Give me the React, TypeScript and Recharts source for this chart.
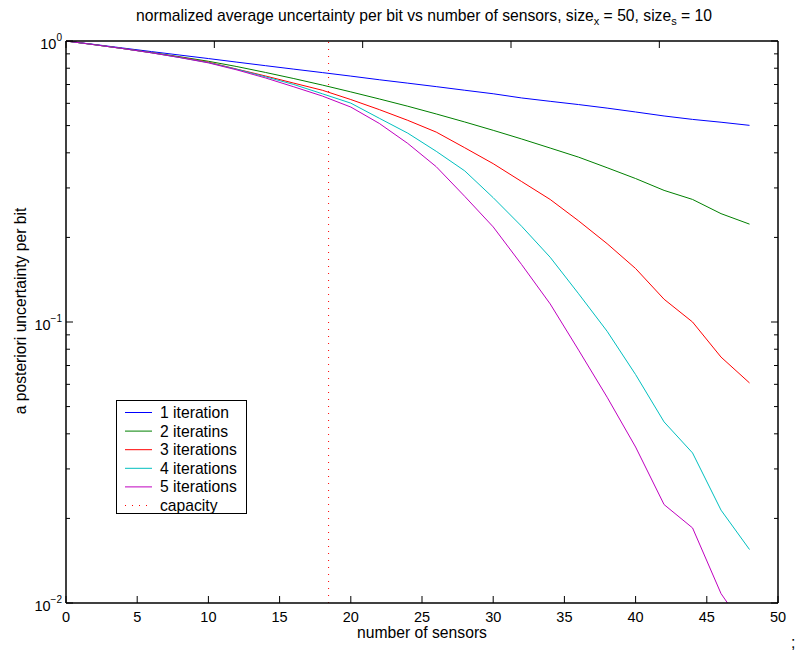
import { LineChart, Line, XAxis, YAxis, ReferenceLine } from 'recharts'

// number of sensors (sampled every 2)
const sensors = [0, 2, 4, 6, 8, 10, 12, 14, 16, 18, 20, 22, 24, 26, 28, 30, 32, 34, 36, 38, 40, 42, 44, 46, 48]

// a posteriori uncertainty per bit
const iter1 = [1, 0.972, 0.944, 0.917, 0.891, 0.866, 0.841, 0.817, 0.794, 0.772, 0.75, 0.728, 0.708, 0.688, 0.668, 0.649, 0.627, 0.61, 0.594, 0.577, 0.559, 0.541, 0.526, 0.514, 0.501]
const iter2 = [1, 0.97, 0.94, 0.91, 0.879, 0.847, 0.811, 0.773, 0.735, 0.697, 0.659, 0.622, 0.586, 0.55, 0.515, 0.481, 0.448, 0.416, 0.386, 0.354, 0.324, 0.294, 0.273, 0.243, 0.223]
const iter3 = [1, 0.97, 0.94, 0.908, 0.875, 0.841, 0.794, 0.751, 0.708, 0.668, 0.619, 0.57, 0.522, 0.474, 0.417, 0.366, 0.316, 0.273, 0.229, 0.19, 0.155, 0.1205, 0.1, 0.075, 0.0607]
const iter4 = [1, 0.97, 0.94, 0.908, 0.873, 0.838, 0.793, 0.746, 0.7, 0.649, 0.601, 0.531, 0.47, 0.405, 0.345, 0.277, 0.219, 0.17, 0.126, 0.0927, 0.065, 0.0441, 0.0342, 0.0214, 0.0155]
const iter5 = [1, 0.97, 0.94, 0.908, 0.873, 0.836, 0.789, 0.739, 0.687, 0.637, 0.582, 0.509, 0.432, 0.357, 0.28, 0.218, 0.16, 0.116, 0.0794, 0.054, 0.0359, 0.0224, 0.0185, 0.0108, 0.0077]

const capacity = 18.44

const xTicks = [0, 5, 10, 15, 20, 25, 30, 35, 40, 45, 50]
const yTicks = [
  0.01, 0.02, 0.03, 0.04, 0.05, 0.06, 0.07, 0.08, 0.09,
  0.1, 0.2, 0.3, 0.4, 0.5, 0.6, 0.7, 0.8, 0.9, 1,
]

const series = [
  { key: 'i1', name: '1 iteration', color: '#0000ff', values: iter1 },
  { key: 'i2', name: '2 iteratins', color: '#008000', values: iter2 },
  { key: 'i3', name: '3 iterations', color: '#ff0000', values: iter3 },
  { key: 'i4', name: '4 iterations', color: '#00bfbf', values: iter4 },
  { key: 'i5', name: '5 iterations', color: '#bf00bf', values: iter5 },
]

const data = sensors.map((x, i) => {
  const row: Record<string, number> = { x }
  series.forEach((s) => {
    row[s.key] = s.values[i]
  })
  return row
})

const FONT = '"Liberation Sans", Arial, Helvetica, sans-serif'
const TEXT = 15.7
const TICK = 14.5

const decade = (v: number) => {
  const e = Math.round(Math.log10(v))
  return { e, major: Math.abs(Math.log10(v) - e) < 1e-6 }
}

const BottomTick = (p: any) => (
  <g>
    <line x1={p.x} x2={p.x} y1={p.y} y2={p.y - 7} stroke="#000" strokeWidth={1} />
    <text x={p.x} y={p.y + 19} textAnchor="middle" fontSize={TICK} fontFamily={FONT} fill="#000">
      {p.payload.value}
    </text>
  </g>
)

const TopTick = (p: any) => (
  <line x1={p.x} x2={p.x} y1={p.y} y2={p.y + 7} stroke="#000" strokeWidth={1} />
)

const LeftTick = (p: any) => {
  const { e, major } = decade(p.payload.value)
  return (
    <g>
      <line x1={p.x} x2={p.x + (major ? 7 : 4)} y1={p.y} y2={p.y} stroke="#000" strokeWidth={1} />
      {major && (
        <text x={p.x - 4} y={p.y + 8} textAnchor="end" fontSize={TICK} fontFamily={FONT} fill="#000">
          10
          <tspan dy={-8} fontSize={10}>
            {e === 0 ? '0' : '\u2212' + -e}
          </tspan>
        </text>
      )}
    </g>
  )
}

const RightTick = (p: any) => {
  const { major } = decade(p.payload.value)
  return <line x1={p.x} x2={p.x - (major ? 7 : 4)} y1={p.y} y2={p.y} stroke="#000" strokeWidth={1} />
}

const axisLine = { stroke: '#000', strokeWidth: 1.5 }

export default function App() {
  return (
    <div style={{ position: 'absolute', left: 0, top: 0, width: 798, height: 650, background: '#fff', fontFamily: FONT }}>
      <LineChart width={798} height={650} data={data} margin={{ top: 40, right: 19, bottom: 46, left: 65 }}>
        <XAxis
          xAxisId="b"
          dataKey="x"
          type="number"
          domain={[0, 50]}
          ticks={xTicks}
          height={1}
          tickSize={0}
          tickMargin={0}
          tickLine={false}
          axisLine={axisLine}
          tick={BottomTick}
          interval={0}
          allowDataOverflow
        />
        <XAxis
          xAxisId="t"
          orientation="top"
          type="number"
          domain={[0, 50]}
          ticks={xTicks}
          height={1}
          tickSize={0}
          tickMargin={0}
          tickLine={false}
          axisLine={axisLine}
          tick={TopTick}
          interval={0}
          allowDataOverflow
        />
        <YAxis
          yAxisId="l"
          type="number"
          scale="log"
          domain={[0.01, 1]}
          ticks={yTicks}
          width={1}
          tickSize={0}
          tickMargin={0}
          tickLine={false}
          axisLine={axisLine}
          tick={LeftTick}
          interval={0}
          allowDataOverflow
        />
        <YAxis
          yAxisId="r"
          orientation="right"
          type="number"
          scale="log"
          domain={[0.01, 1]}
          ticks={yTicks}
          width={1}
          tickSize={0}
          tickMargin={0}
          tickLine={false}
          axisLine={axisLine}
          tick={RightTick}
          interval={0}
          allowDataOverflow
        />
        <ReferenceLine xAxisId="b" yAxisId="l" x={capacity} stroke="#ff0000" strokeWidth={1} strokeDasharray="1 6" />
        {series.map((s) => (
          <Line
            key={s.key}
            xAxisId="b"
            yAxisId="l"
            dataKey={s.key}
            name={s.name}
            stroke={s.color}
            strokeWidth={1}
            dot={false}
            isAnimationActive={false}
          />
        ))}
      </LineChart>

      <div style={{ position: 'absolute', left: 0, width: 848, top: 7, textAlign: 'center', fontSize: TEXT, lineHeight: '18px', whiteSpace: 'nowrap' }}>
        normalized average uncertainty per bit vs number of sensors, size
        <sub style={{ fontSize: 11, lineHeight: 0 }}>x</sub> = 50, size
        <sub style={{ fontSize: 11, lineHeight: 0 }}>s</sub> = 10
      </div>
      <div style={{ position: 'absolute', left: 272, width: 300, top: 624, textAlign: 'center', fontSize: TEXT, lineHeight: '18px' }}>
        number of sensors
      </div>
      <div
        style={{
          position: 'absolute',
          left: 21,
          top: 311,
          fontSize: TEXT,
          lineHeight: '18px',
          whiteSpace: 'nowrap',
          transform: 'translate(-50%, -50%) rotate(-90deg)',
        }}
      >
        a posteriori uncertainty per bit
      </div>
      <div style={{ position: 'absolute', left: 791, top: 634, fontSize: TEXT, lineHeight: '18px' }}>;</div>

      <div
        style={{
          position: 'absolute',
          left: 116,
          top: 400,
          width: 131,
          height: 114,
          border: '1.5px solid #000',
          background: '#fff',
          boxSizing: 'border-box',
        }}
      >
        <svg width={131} height={114} style={{ position: 'absolute', left: -1.5, top: -1.5 }}>
          {[...series.map((s) => ({ name: s.name, color: s.color, dash: undefined as string | undefined })), { name: 'capacity', color: '#ff0000', dash: '1 6' }].map((r, i) => (
            <g key={r.name}>
              <line x1={9} x2={36} y1={12.5 + i * 18.6} y2={12.5 + i * 18.6} stroke={r.color} strokeWidth={1} strokeDasharray={r.dash} />
              <text x={44} y={12.5 + i * 18.6 + 5.5} fontSize={TEXT} fontFamily={FONT} fill="#000">
                {r.name}
              </text>
            </g>
          ))}
        </svg>
      </div>
    </div>
  )
}
